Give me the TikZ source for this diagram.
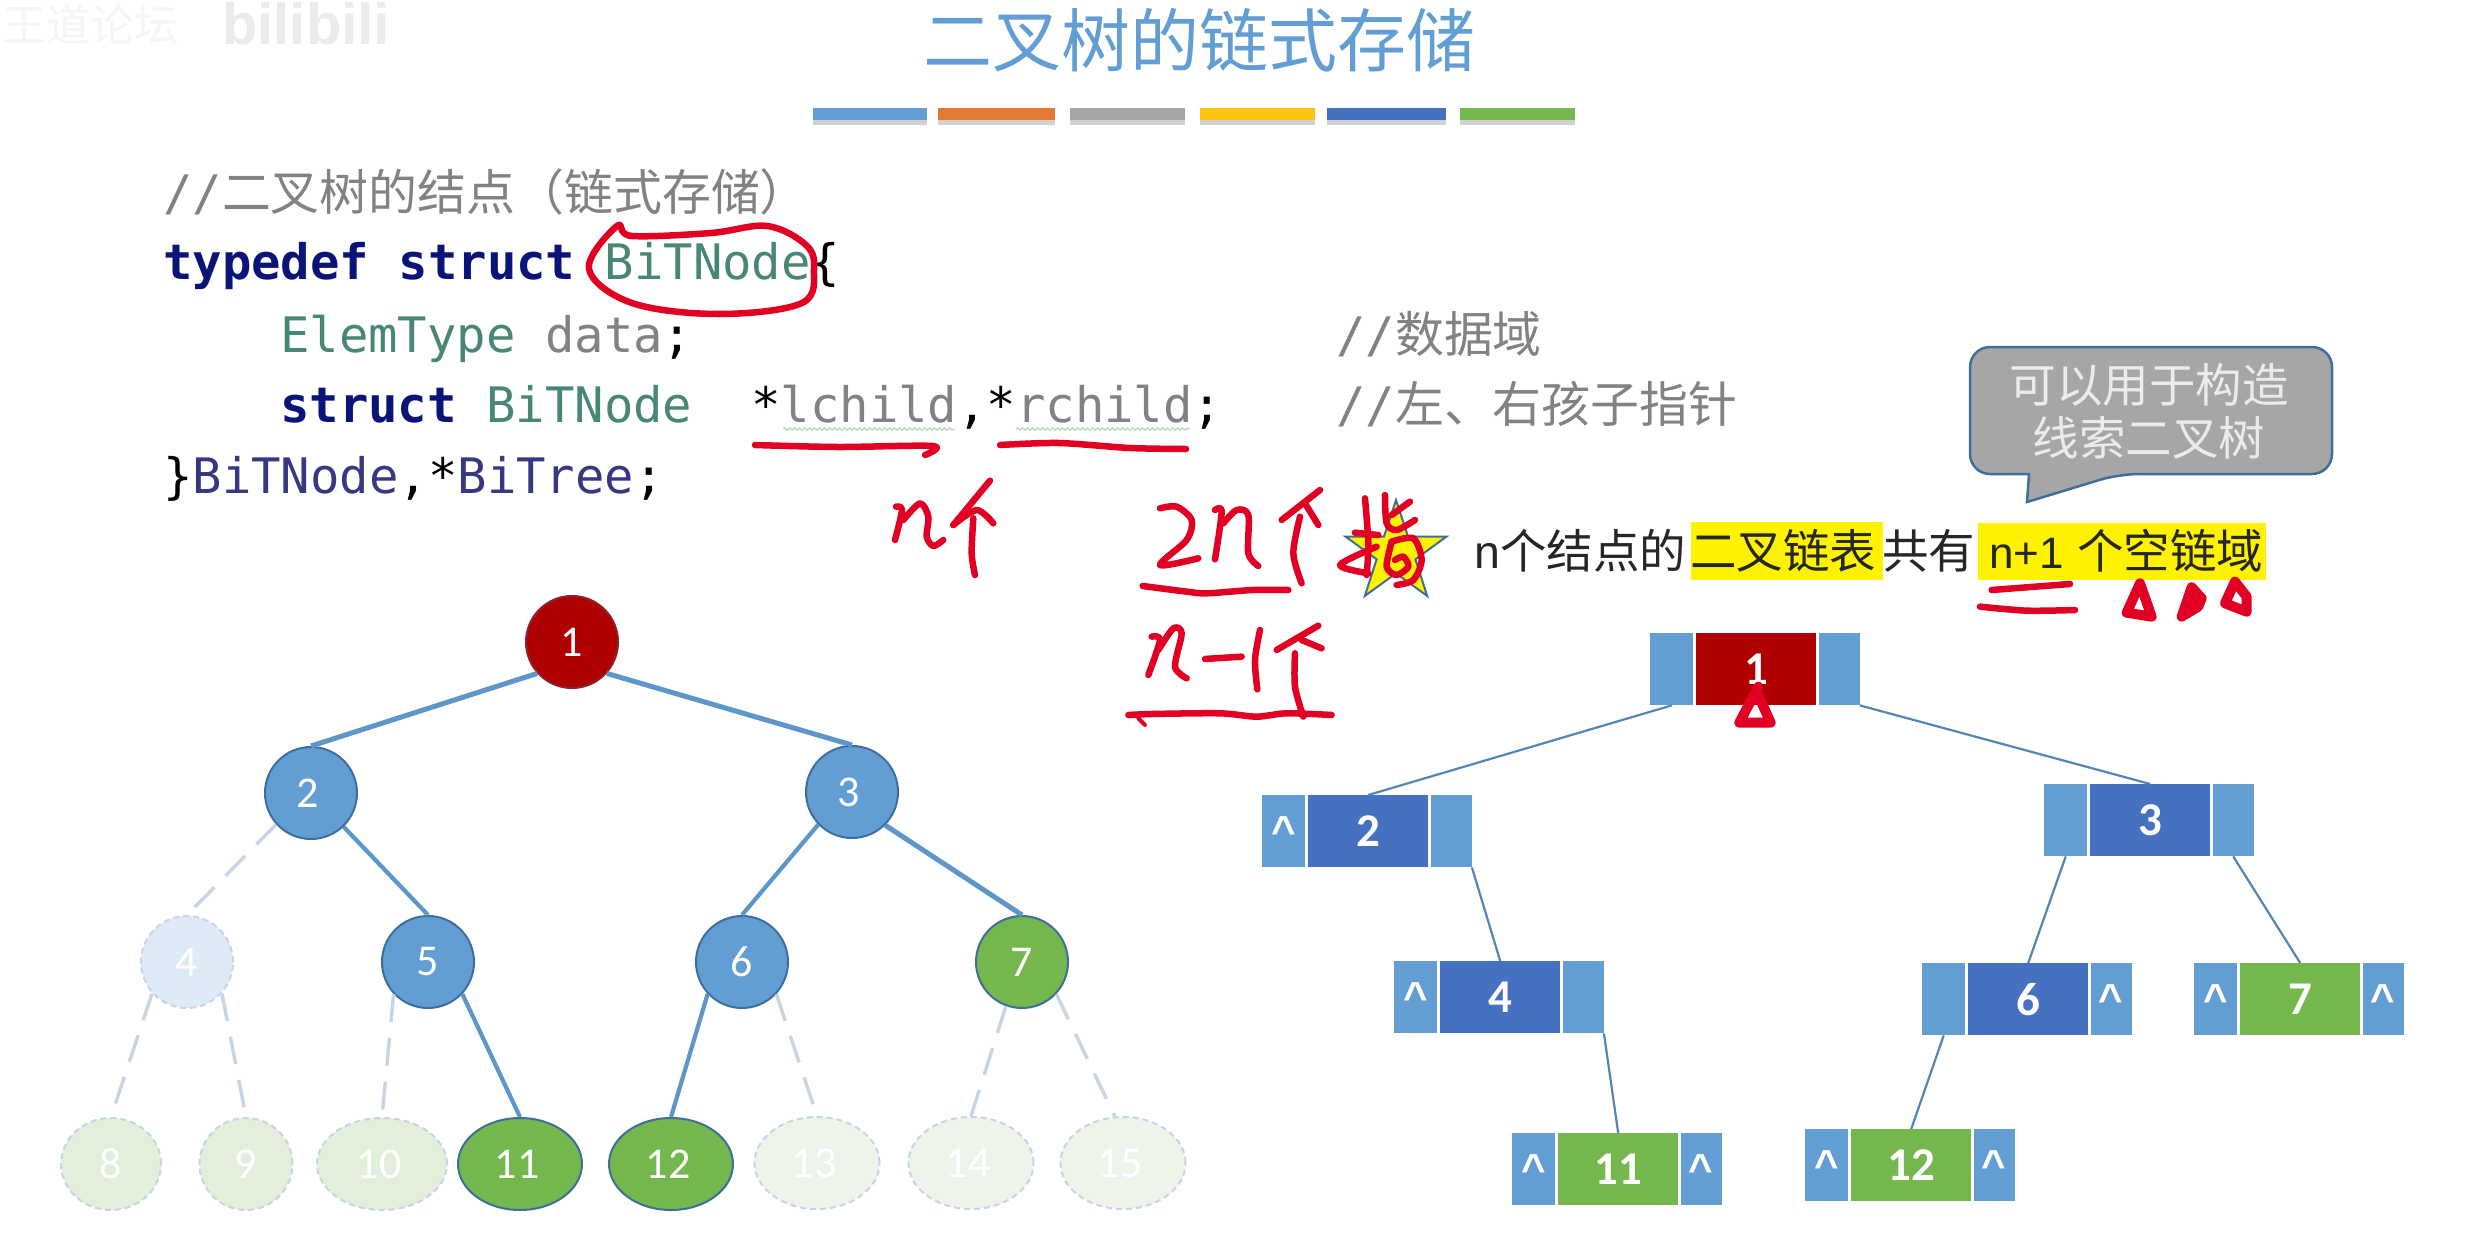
\documentclass[tikz,border=0pt]{standalone}
\usepackage{fontspec}
\usetikzlibrary{shapes.geometric,decorations.pathmorphing}
\setmainfont{Carlito}
\setmonofont{DejaVu Sans Mono}
\newfontfamily\cjk{Noto Sans CJK SC}
\newfontfamily\arial{Liberation Sans}
\definecolor{cblue}{RGB}{98,158,211}
\definecolor{cborder}{RGB}{62,110,155}
\definecolor{cgreen}{RGB}{116,183,76}
\definecolor{cred}{RGB}{176,0,0}
\definecolor{cmid}{RGB}{70,113,192}
\definecolor{corange}{RGB}{226,122,52}
\definecolor{cyell}{RGB}{250,195,20}
\definecolor{fadeblue}{RGB}{222,234,246}
\definecolor{fadegreen}{RGB}{226,239,218}
\definecolor{fadegreenb}{RGB}{238,244,233}
\definecolor{fadeline}{RGB}{198,212,232}
\definecolor{hred}{RGB}{225,0,35}
\definecolor{navy}{RGB}{10,20,120}
\definecolor{teal2}{RGB}{72,135,118}
\definecolor{greyt}{RGB}{130,130,130}
\definecolor{purp}{RGB}{55,55,130}
\tikzset{
 circ/.style={ellipse,inner sep=0pt,line width=2pt,draw=cborder,font=\fontsize{44}{44}\selectfont,text=white},
 nudge/.style={execute at begin node=\hspace*{-6pt}},
 bluec/.style={circ,fill=cblue,minimum width=92pt,minimum height=92pt},
 redc/.style={bluec,fill=cred,draw=cred!70!cborder},
 greenc/.style={bluec,fill=cgreen},
 ghostblue/.style={circ,fill=fadeblue,draw=fadeline,dashed,dash pattern=on 6pt off 4pt,minimum width=92pt,minimum height=92pt},
 ghostgreen/.style={ghostblue,fill=fadegreen,minimum width=100pt},
 ghostpale/.style={ghostblue,fill=fadegreenb,minimum width=125pt},
 bigleaf/.style={greenc,minimum width=124pt},
 strong/.style={draw=cblue!95!black,line width=5pt},
 thin/.style={draw=cblue!95!black,line width=4.2pt},
 ghostedge/.style={draw=fadeline,line width=3.4pt,dash pattern=on 28pt off 16pt},
 listedge/.style={draw=cblue!85!black,line width=2.2pt},
 cellbox/.style={anchor=north west,inner sep=0pt,minimum height=72pt,text=white},
 side/.style={cellbox,fill=cblue,minimum width=43pt,font=\arial\bfseries\fontsize{42}{42}\selectfont},
 midc/.style={cellbox,minimum width=120pt,font=\bfseries\fontsize{47}{47}\selectfont},
 code/.style={anchor=base west,inner sep=0pt,font=\ttfamily\fontsize{48.9}{48.9}\selectfont},
 note/.style={anchor=base west,inner sep=0pt,font=\cjk\fontsize{46.5}{46.5}\selectfont,text=black!85},
 hand/.style={draw=hred,line width=6.5pt,line cap=round,line join=round},
 handthick/.style={hand,line width=10pt},
}
\newcommand{\cc}[1]{{\cjk #1}}
\newcommand{\listnode}[7]{%
 \node[side] (#1l) at (#2,#3) {\raisebox{-0.28em}{#6}};
 \node[midc,fill=#4] (#1m) at (#2+46,#3) {#5};
 \node[side,minimum width=41pt] (#1r) at (#2+168.5,#3) {\raisebox{-0.28em}{#7}};
}
\newcommand{\nul}{\textasciicircum}
\begin{document}
\begin{tikzpicture}[x=1pt,y=-1pt]
\useasboundingbox (0,0) rectangle (2472,1255);
\fill[white] (0,0) rectangle (2472,1255);
% watermark
\node[anchor=base west,inner sep=0pt,text=black!4,font=\cjk\fontsize{44}{44}\selectfont] (wm1) at (2,42) {王道论坛};
\node[anchor=base west,inner sep=0pt,text=black!8,font=\arial\bfseries\fontsize{58}{58}\selectfont] (wm2) at (222,45) {bilibili};
% title
\node[inner sep=0pt,text=cblue,font=\cjk\fontsize{69}{69}\selectfont] (title) at (1199,40) {二叉树的链式存储};
% bars
\foreach \a/\b/\c in {813/927/cblue,938/1055/corange,1070/1185/black!35,1200/1315/cyell,1327/1446/cmid,1460/1575/cgreen}{
 \fill[black!18] (\a,118) rectangle (\b,125);
 \fill[\c] (\a,108) rectangle (\b,120);
}
% code
\node[code,text=greyt] (c1) at (163,210) {//\cc{二叉树的结点（链式存储）}};
\node[code] (c2) at (163,279) {\textcolor{navy}{\bfseries typedef struct} \textcolor{teal2}{BiTNode}\{};
\node[code] (c3) at (280,352) {\textcolor{teal2}{ElemType} \textcolor{greyt}{data};};
\node[code] (c4) at (280,422) {\textcolor{navy}{\bfseries struct} \textcolor{teal2}{BiTNode}\ \ *\textcolor{greyt}{lchild},*\textcolor{greyt}{rchild};};
\node[code] (c5) at (163,493) {\}\textcolor{purp}{BiTNode},*\textcolor{purp}{BiTree};};
\node[code,text=greyt] (c6) at (1336,352) {//\cc{数据域}};
\node[code,text=greyt] (c7) at (1336,422) {//\cc{左、右孩子指针}};
\draw[draw=green!45!black!30,line width=1pt,decorate,decoration={snake,amplitude=1.3pt,segment length=5pt}] (783,429) -- (955,429);
\draw[draw=green!45!black!30,line width=1pt,decorate,decoration={snake,amplitude=1.3pt,segment length=5pt}] (1016,429) -- (1190,429);
% callout
\draw[fill=black!35,draw=cborder,line width=2.5pt,rounded corners=20pt] (2150,347) -- (2332,347) -- (2332,474) -- (2119,474) [sharp corners] -- (2027,502) -- (2029,474) [rounded corners=20pt] -- (1970,474) -- (1970,347) -- cycle;
\node[inner sep=0pt,text=white!92!black,font=\cjk\fontsize{46.5}{46.5}\selectfont] (co1) at (2149,385) {可以用于构造};
\node[inner sep=0pt,text=white!92!black,font=\cjk\fontsize{46.5}{46.5}\selectfont] (co2) at (2149,438) {线索二叉树};
% note
\fill[yellow] (1691,522) rectangle (1883,580);
\fill[yellow] (1978,523) rectangle (2266,580);
\node[star,star points=5,star point ratio=2.6,minimum size=106pt,inner sep=0pt,fill=yellow,draw=cborder,line width=2pt] (starbadge) at (1396,553) {};
\node[note] (n1) at (1474,568) {{\arial n}个结点的};
\node[note] (n2) at (1690,568) {二叉链表};
\node[note] (n3) at (1882,568) {共有};
\node[note,font=\arial\fontsize{44}{44}\selectfont] (n4) at (1989,568) {n+1};
\node[note] (n5) at (2077,568) {个空链域};
% left tree
\node[redc] (t1) at (572,642) {1};
\node[bluec,nudge] (t2) at (311,793) {2};
\node[bluec,nudge] (t3) at (852,792) {3};
\node[ghostblue] (t4) at (187,962) {4};
\node[bluec] (t5) at (428,962) {5};
\node[bluec] (t6) at (742,962) {6};
\node[greenc] (t7) at (1022,962) {7};
\node[ghostgreen] (t8) at (111,1164) {8};
\node[ghostgreen,minimum width=93pt] (t9) at (246,1164) {9};
\node[ghostgreen,minimum width=130pt,nudge] (t10) at (382,1164) {10};
\node[bigleaf,nudge] (t11) at (520,1164) {11};
\node[bigleaf,nudge] (t12) at (671,1164) {12};
\node[ghostpale,nudge] (t13) at (817,1163) {13};
\node[ghostpale,nudge] (t14) at (971,1163) {14};
\node[ghostpale,nudge] (t15) at (1123,1163) {15};
\draw[strong] (t1.222) -- (t2.north);
\draw[strong] (t1.318) -- (t3.north);
\draw[thin] (t2.-46) -- (t5.north);
\draw[thin] (t3.224) -- (t6.north);
\draw[strong] (t3.-45) -- (t7.north);
\draw[thin] (t5.-43) -- (t11.north);
\draw[thin] (t6.223) -- (t12.north);
\draw[ghostedge] (t2.222) -- (t4.north);
\draw[ghostedge] (t4.222) -- (t8.north);
\draw[ghostedge] (t4.-42) -- (t9.north);
\draw[ghostedge] (t5.223) -- (t10.north);
\draw[ghostedge] (t6.-43) -- (t13.north);
\draw[ghostedge] (t7.250) -- (t14.north);
\draw[ghostedge] (t7.-43) -- (t15.100);
% right list
\listnode{a}{1650}{633}{cred}{1}{}{}
\listnode{b}{1262}{795}{cmid}{2}{\nul}{}
\listnode{c}{2044}{784}{cmid}{3}{}{}
\listnode{d}{1394}{961}{cmid}{4}{\nul}{}
\listnode{f}{1922}{963}{cmid}{6}{}{\nul}
\listnode{g}{2194}{963}{cgreen}{7}{\nul}{\nul}
\listnode{k}{1512}{1133}{cgreen}{11}{\nul}{\nul}
\listnode{m}{1805}{1129}{cgreen}{12}{\nul}{\nul}
\draw[listedge] (al.south) -- (bm.north);
\draw[listedge] (ar.south east) -- (cm.north);
\draw[listedge] (br.south east) -- (dm.north);
\draw[listedge] (dr.south east) -- (km.north);
\draw[listedge] (cl.south) -- (fm.north);
\draw[listedge] (cr.south) -- (gm.north);
\draw[listedge] (fl.south) -- (mm.north);
% handwriting: BiTNode ring and underlines
\draw[hand] plot[smooth cycle,tension=.6] coordinates {(617,226) (632,236) (711,233) (767,226) (806,245) (814,269) (802,303) (719,314) (632,303) (589,269)};
\draw[hand] plot[smooth] coordinates {(755,445) (838,447) (933,446) (925,455)};
\draw[hand] plot[smooth] coordinates {(1000,445) (1059,443) (1130,448) (1186,449)};
\begin{scope}[shift={(870,460)},x=.3333pt,y=-.3333pt]
\draw[hand] plot[smooth] coordinates {(78,140) (96,150) (75,240)};
\draw[hand] plot[smooth] coordinates {(100,180) (150,130) (175,170) (170,230) (190,258) (220,240)};
\draw[hand] (360,62) -- (250,195);
\draw[hand] plot[smooth] coordinates {(250,195) (320,150) (370,190)};
\draw[hand] plot[smooth] coordinates {(310,175) (305,280) (315,345)};
\end{scope}
\begin{scope}[shift={(1120,460)},x=.3333pt,y=-.3333pt]
\draw[hand] plot[smooth] coordinates {(120,145) (170,140) (215,180) (200,240) (120,315) (235,295)};
\draw[hand] plot[smooth] coordinates {(285,150) (305,155) (285,298)};
\draw[hand] plot[smooth] coordinates {(310,190) (350,150) (385,165) (385,280) (415,318)};
\draw[hand] (600,90) -- (485,180);
\draw[hand] (555,130) -- (595,195);
\draw[hand] plot[smooth] coordinates {(540,170) (520,280) (545,370)};
\draw[hand] plot[smooth] coordinates {(68,378) (200,395) (260,400) (400,390) (505,390)};
\draw[hand] plot[smooth] coordinates {(95,530) (120,540) (85,645)};
\draw[hand] plot[smooth] coordinates {(115,570) (160,505) (185,520) (165,620) (200,655)};
\draw[hand] (255,597) -- (365,590);
\draw[hand] plot[smooth] coordinates {(420,510) (405,600) (412,688)};
\draw[hand] (595,497) -- (470,570);
\draw[hand] (545,540) -- (605,565);
\draw[hand] plot[smooth] coordinates {(525,580) (525,680) (550,770)};
\draw[hand] plot[smooth] coordinates {(25,765) (100,762) (300,760) (410,770) (500,760) (635,765)};
\draw[hand,line width=4pt] (55,775) -- (75,795);
\draw[hand] (705,218) -- (775,225);
\draw[hand] plot[smooth] coordinates {(735,115) (745,250) (740,345)};
\draw[hand] plot[smooth] coordinates {(745,340) (660,315) (770,260)};
\draw[hand] plot[smooth] coordinates {(795,105) (800,190) (830,210) (885,180)};
\draw[hand] (870,125) -- (815,165);
\draw[hand] plot[smooth] coordinates {(815,245) (880,235) (905,300) (880,360) (830,375)};
\draw[hand] plot[smooth] coordinates {(815,245) (800,320) (830,345) (865,320) (850,290) (825,300)};
\end{scope}
\begin{scope}[shift={(1960,500)},x=.3333pt,y=-.3333pt]
\draw[hand] plot[smooth] coordinates {(95,270) (200,262) (330,252)};
\draw[hand] plot[smooth] coordinates {(60,320) (200,332) (345,330)};
\draw[handthick] (540,250) -- (500,338) -- (575,350) -- cycle;
\draw[handthick,fill=hred] (695,262) -- (725,295) -- (715,320) -- (665,350) -- cycle;
\draw[handthick] (825,245) -- (795,310) -- (860,335) -- (860,290) -- cycle;
\end{scope}
\begin{scope}[shift={(1640,620)},x=.3333pt,y=-.3333pt]
\draw[handthick] (355,200) -- (298,308) -- (392,308) -- (350,215);
\end{scope}
\end{tikzpicture}
\end{document}
